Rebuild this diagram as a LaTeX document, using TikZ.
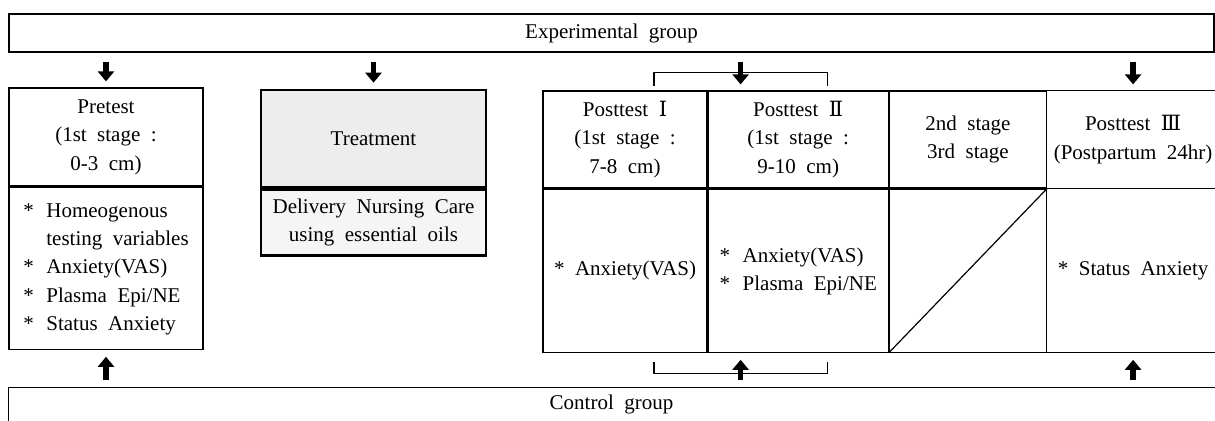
\documentclass[tikz,border=0pt]{standalone}
\usepackage{fontspec}
\setmainfont{Liberation Serif}
\newfontfamily\romfont{DejaVu Serif}
\usetikzlibrary{arrows.meta}
\newcommand\wordfont{\fontsize{10.5}{14.2}\selectfont\spaceskip=0.5em\relax}

\begin{document}
\begin{tikzpicture}[x=0.5pt, y=-0.5pt, line width=0.6pt,
  every node/.style={font=\wordfont},
  cell/.style={draw, inner sep=0pt, align=center},
  treatcell/.style={cell, line width=1.3pt},
  arrowdown/.style={line width=2.8pt, -{Triangle[length=5pt,width=8pt]}, shorten <=4.5pt, shorten >=3pt},
  arrowup/.style={line width=2.8pt, -{Triangle[length=5pt,width=8pt]}, shorten <=3.5pt, shorten >=3.5pt}]
  \useasboundingbox (0,0) rectangle (1215,421);

  \node[draw, inner sep=0pt, minimum width=602.5pt, minimum height=19pt] (exp) at (611.5,33) {Experimental group};
  \node[inner sep=0pt, minimum width=602.5pt, minimum height=16.5pt] (ctl) at (611.5,404.5) {Control group};
  \draw (ctl.south west) -- (ctl.north west) -- (ctl.north east);

  \node[cell, minimum width=97pt, minimum height=49pt] (pre) at (106,137) {Pretest\\(1st stage :\\0-3 cm)};
  \node[cell, minimum width=97pt, minimum height=81pt, anchor=north] (preb) at (pre.south)
    {\begin{tabular}{@{}l@{\hspace{0.6em}}l@{}}{*}&Homeogenous\\&testing variables\\{*}&Anxiety(VAS)\\{*}&Plasma Epi/NE\\{*}&Status Anxiety\end{tabular}};

  \node[treatcell, fill=black!7, minimum width=112.5pt, minimum height=48.5pt] (treat) at (373.5,138.5) {Treatment};
  \node[treatcell, fill=black!4, minimum width=112.5pt, minimum height=33pt, anchor=north] (care) at (treat.south) {Delivery Nursing Care\\using essential oils};

  \node[cell, minimum width=82pt, minimum height=48.5pt] (post1) at (625,139.5) {Posttest {\romfont Ⅰ}\\(1st stage :\\7-8 cm)};
  \node[cell, minimum width=82pt, minimum height=81.5pt, anchor=north] (post1b) at (post1.south) {* Anxiety(VAS)};
  \node[cell, minimum width=90pt, minimum height=48.5pt, anchor=west] (post2) at (post1.east) {Posttest {\romfont Ⅱ}\\(1st stage :\\9-10 cm)};
  \node[cell, minimum width=90pt, minimum height=81.5pt, anchor=north] (post2b) at (post2.south)
    {\begin{tabular}{@{}l@{\hspace{0.6em}}l@{}}{*}&Anxiety(VAS)\\{*}&Plasma Epi/NE\end{tabular}};
  \node[cell, minimum width=78.5pt, minimum height=48.5pt, anchor=west] (stage) at (post2.east) {2nd stage\\3rd stage};
  \node[cell, minimum width=78.5pt, minimum height=81.5pt, anchor=north] (stageb) at (stage.south) {};
  \node[inner sep=0pt, align=center, minimum width=85.5pt, minimum height=48.5pt, anchor=west] (post3) at (stage.east) {Posttest {\romfont Ⅲ}\\(Postpartum 24hr)};
  \node[inner sep=0pt, minimum width=85.5pt, minimum height=81.5pt, anchor=north] (post3b) at (post3.south) {* Status Anxiety};
  \draw (post3.north west) -- (post3.north east);
  \draw (post3b.north west) -- (post3b.north east);
  \draw (post3b.south west) -- (post3b.south east);
  \draw (stageb.south west) -- (stageb.north east);

  \coordinate (btl) at ([shift={(14.5pt,2pt)}]post1.north);
  \coordinate (btr) at ([shift={(14.5pt,2pt)}]post2.north);
  \coordinate (btm) at ([shift={(16.5pt,2pt)}]post1.north east);
  \coordinate (bbl) at ([shift={(14.5pt,-4.5pt)}]post1b.south);
  \coordinate (bbr) at ([shift={(14.5pt,-4.5pt)}]post2b.south);
  \coordinate (bbm) at ([shift={(16.5pt,-4.5pt)}]post1b.south east);
  \draw (btl) -- ++(0,-14) -| (btr);
  \draw (bbl) -- ++(0,12) -| (bbr);

  \draw[arrowdown] (exp.south -| pre.north) -- (pre.north);
  \draw[arrowdown] (exp.south -| treat.north) -- (treat.north);
  \draw[arrowdown] (exp.south -| btm) -- (btm |- post1.north);
  \draw[arrowdown] (exp.south -| post3.north) -- (post3.north);
  \draw[arrowup] (ctl.north -| preb.south) -- (preb.south);
  \draw[arrowup] (ctl.north -| bbm) -- (bbm |- post1b.south);
  \draw[arrowup] (ctl.north -| post3b.south) -- (post3b.south);
\end{tikzpicture}
\end{document}
